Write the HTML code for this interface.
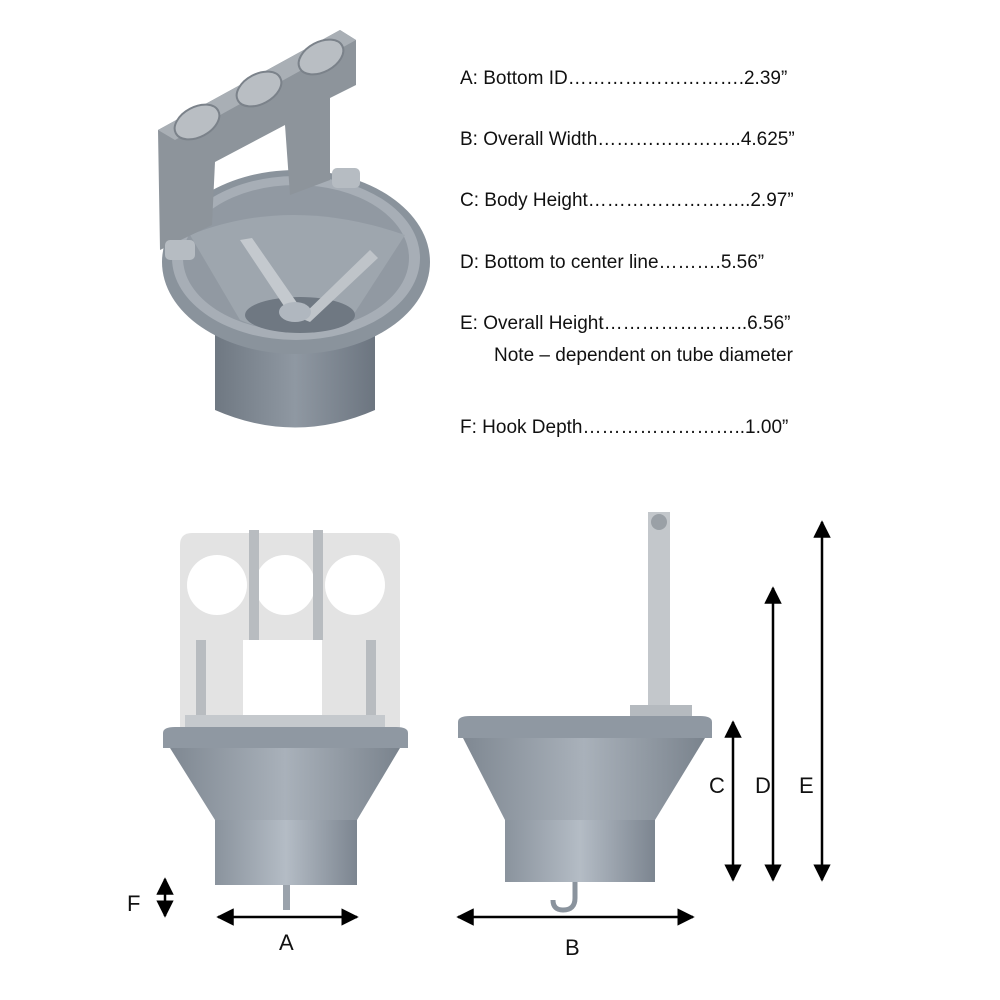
<!DOCTYPE html>
<html><head><meta charset="utf-8"><style>
body{margin:0;background:#fff;}
svg{display:block}
text{font-family:"Liberation Sans",sans-serif;fill:#111}
</style></head><body>
<svg width="1000" height="1000" viewBox="0 0 1000 1000" xmlns="http://www.w3.org/2000/svg">
<defs>
<linearGradient id="cyl" x1="0" x2="1"><stop offset="0" stop-color="#8a939d"/><stop offset=".5" stop-color="#b4bcc5"/><stop offset="1" stop-color="#7c8590"/></linearGradient>
<linearGradient id="cyl2" x1="0" x2="1"><stop offset="0" stop-color="#6f7882"/><stop offset=".5" stop-color="#8f98a2"/><stop offset="1" stop-color="#6c7580"/></linearGradient>
<linearGradient id="cone" x1="0" x2="1"><stop offset="0" stop-color="#7f8892"/><stop offset=".5" stop-color="#a9b1ba"/><stop offset="1" stop-color="#7a838d"/></linearGradient>
<marker id="ah" viewBox="0 0 10 10" refX="9" refY="5" markerWidth="7" markerHeight="7" orient="auto-start-reverse"><path d="M0,0L10,5L0,10z" fill="#000"/></marker>
</defs>

<!-- Top isometric render -->
<path d="M215,320 L215,410 Q295,445 375,410 L375,320 Z" fill="url(#cyl2)"/>
<ellipse cx="296" cy="262" rx="134" ry="92" fill="#8a939c"/>
<ellipse cx="296" cy="258" rx="124" ry="82" fill="#a7aeb6"/>
<ellipse cx="296" cy="258" rx="113" ry="73" fill="#9199a2"/>
<path d="M190,235 Q290,195 405,235 L350,320 Q300,345 240,320 Z" fill="#9ea6ae"/>
<ellipse cx="300" cy="315" rx="55" ry="18" fill="#6f7882"/>
<path d="M240,240 L290,315 L302,310 L252,238Z" fill="#c4c9ce"/>
<path d="M370,250 L300,318 L310,322 L378,258Z" fill="#bfc4c9"/>
<ellipse cx="295" cy="312" rx="16" ry="10" fill="#b0b7bf"/>
<!-- bracket -->
<path d="M158,130 L340,30 L356,40 L356,85 L330,98 L330,180 L290,195 L285,125 L215,162 L212,225 L160,250Z" fill="#8d949b"/>
<path d="M158,130 L340,30 L356,40 L175,140Z" fill="#a9afb5"/>
<g fill="#b9bec3" stroke="#7b828a" stroke-width="2">
<ellipse cx="197" cy="122" rx="24" ry="15" transform="rotate(-28 197 122)"/>
<ellipse cx="259" cy="89" rx="24" ry="15" transform="rotate(-28 259 89)"/>
<ellipse cx="321" cy="57" rx="24" ry="15" transform="rotate(-28 321 57)"/>
</g>
<rect x="165" y="240" width="30" height="20" rx="5" fill="#b6bcc2"/>
<rect x="332" y="168" width="28" height="20" rx="5" fill="#b6bcc2"/>

<!-- text -->
<g font-size="19">
<text x="460" y="84">A:  Bottom ID……………………….2.39”</text>
<text x="460" y="145">B:  Overall Width…………………..4.625”</text>
<text x="460" y="206">C:  Body Height……………………..2.97”</text>
<text x="460" y="268">D:  Bottom to center line……….5.56”</text>
<text x="460" y="329">E:  Overall Height…………………..6.56”</text>
<text x="494" y="361">Note – dependent on tube diameter</text>
<text x="460" y="433">F:  Hook Depth……………………..1.00”</text>
</g>

<!-- Front view -->
<path d="M180,545 Q180,533 192,533 L388,533 Q400,533 400,545 L400,728 L180,728Z" fill="#e3e3e3"/>
<circle cx="217" cy="585" r="30" fill="#fff"/>
<circle cx="285" cy="585" r="30" fill="#fff"/>
<circle cx="355" cy="585" r="30" fill="#fff"/>
<rect x="243" y="640" width="79" height="90" fill="#fff"/>
<rect x="249" y="530" width="10" height="110" fill="#b8bcc0"/>
<rect x="313" y="530" width="10" height="110" fill="#b8bcc0"/>
<rect x="196" y="640" width="10" height="85" fill="#b8bcc0"/>
<rect x="366" y="640" width="10" height="85" fill="#b8bcc0"/>
<rect x="185" y="715" width="200" height="13" fill="#c5c9cd"/>
<path d="M163,733 Q163,727 175,727 L396,727 Q408,727 408,733 L408,748 L163,748Z" fill="#8f98a2"/>
<path d="M170,748 L400,748 L357,820 L215,820Z" fill="url(#cone)"/>
<rect x="215" y="820" width="142" height="65" fill="url(#cyl)"/>
<rect x="283" y="885" width="7" height="25" fill="#9aa2ab"/>

<!-- Side view -->
<rect x="648" y="512" width="22" height="200" fill="#c3c7cb"/>
<circle cx="659" cy="522" r="8" fill="#9aa0a6"/>
<rect x="630" y="705" width="62" height="15" fill="#b5babf"/>
<path d="M458,722 Q458,716 470,716 L700,716 Q712,716 712,722 L712,738 L458,738Z" fill="#8f98a2"/>
<path d="M463,738 L705,738 L655,820 L505,820Z" fill="url(#cone)"/>
<rect x="505" y="820" width="150" height="62" fill="url(#cyl)"/>
<path d="M575,882 L575,898 Q575,910 563,910 Q553,910 553,900" fill="none" stroke="#8a939d" stroke-width="5"/>

<!-- arrows -->
<g stroke="#000" stroke-width="2.5" marker-start="url(#ah)" marker-end="url(#ah)">
<line x1="733" y1="722" x2="733" y2="880"/>
<line x1="773" y1="588" x2="773" y2="880"/>
<line x1="822" y1="522" x2="822" y2="880"/>
<line x1="165" y1="879" x2="165" y2="916"/>
<line x1="218" y1="917" x2="357" y2="917"/>
<line x1="458" y1="917" x2="693" y2="917"/>
</g>
<g font-size="22">
<text x="709" y="793">C</text>
<text x="755" y="793">D</text>
<text x="799" y="793">E</text>
<text x="127" y="911">F</text>
<text x="279" y="950">A</text>
<text x="565" y="955">B</text>
</g>
</svg>
</body></html>
